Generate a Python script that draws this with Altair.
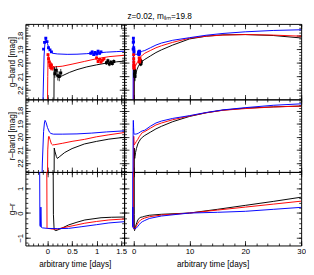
import altair as alt
import pandas as pd

TITLE = "z=0.02, mₗᵢₘ=19.8"
XTITLE = "arbitrary time [days]"
YTITLES = {"g": "g–band [mag]", "r": "r–band [mag]", "gr": "g–r"}
SERIES = ["black", "red", "blue"]
COLORS = ["#000000", "#ff0000", "#0000ff"]

X_LEFT = [-0.45, 1.56]
X_RIGHT = [-1.7, 30.0]
XMAJ_LEFT = [0, 0.5, 1, 1.5]
XMIN_LEFT = [round(-0.4 + 0.1 * i, 2) for i in range(20)]
XMAJ_RIGHT = [0, 10, 20, 30]
XMIN_RIGHT = list(range(0, 31, 2))
Y_MAG = [17.15, 22.68]
YMAJ_MAG = [18, 19, 20, 21, 22]
YMIN_MAG = [round(17.2 + 0.2 * i, 2) for i in range(28)]
Y_COL = [-1.31, 1.66]
YMAJ_COL = [-1, 0, 1]
YMIN_COL = [round(-1.2 + 0.2 * i, 2) for i in range(15)]

# ---- g-band model curves ----
g_black_t = [0.13, 0.135, 0.14, 0.17, 0.22, 0.3, 0.45, 0.6, 0.8, 1.0, 1.2, 1.4, 1.56, 2, 3, 4, 5, 7, 10, 13, 16, 20, 25, 30]
g_black_m = [23.5, 20.3, 20.45, 20.9, 21.05, 20.95, 20.7, 20.5, 20.3, 20.15, 20.02, 19.93, 19.88, 19.75, 19.5, 19.25, 19.05, 18.7, 18.25, 18.05, 17.95, 17.93, 18.0, 18.18]
g_red_t = [-0.002, 0.005, 0.012, 0.03, 0.06, 0.1, 0.15, 0.3, 0.5, 0.75, 1.0, 1.25, 1.56, 2, 3, 4, 5, 7, 10, 13, 16, 20, 25, 30]
g_red_m = [23.5, 21.0, 19.35, 19.6, 20.0, 20.25, 20.3, 20.25, 20.1, 19.9, 19.7, 19.55, 19.45, 19.3, 19.1, 18.9, 18.75, 18.5, 18.2, 18.05, 17.97, 17.93, 17.97, 18.05]
g_blue_t = [-0.1, -0.09, -0.07, -0.05, -0.035, 0.0, 0.03, 0.06, 0.1, 0.2, 0.4, 0.6, 0.8, 1.0, 1.2, 1.4, 1.56, 2, 3, 4, 5, 7, 10, 13, 16, 20, 25, 30]
g_blue_m = [23.5, 22.5, 19.5, 18.4, 18.25, 18.6, 18.95, 19.15, 19.3, 19.35, 19.38, 19.37, 19.33, 19.28, 19.22, 19.18, 19.15, 19.1, 18.9, 18.7, 18.55, 18.35, 18.16, 17.98, 17.85, 17.73, 17.63, 17.58]

# ---- r-band model curves ----
r_black_t = [0.134, 0.137, 0.15, 0.18, 0.2, 0.25, 0.35, 0.5, 0.75, 1.0, 1.25, 1.56, 2, 3, 4, 5, 7, 10, 13, 16, 20, 25, 30]
r_black_m = [23.5, 20.86, 21.1, 21.5, 21.65, 21.5, 21.2, 20.9, 20.55, 20.35, 20.18, 20.04, 19.9, 19.65, 19.4, 19.2, 18.85, 18.45, 18.17, 17.97, 17.82, 17.72, 17.66]
r_red_t = [-0.002, 0.005, 0.02, 0.03, 0.05, 0.08, 0.1, 0.15, 0.3, 0.5, 0.75, 1.0, 1.25, 1.56, 2, 3, 4, 5, 7, 10, 13, 16, 20, 25, 30]
r_red_m = [23.5, 21.0, 20.0, 19.96, 20.2, 20.55, 20.62, 20.6, 20.5, 20.35, 20.2, 20.0, 19.85, 19.68, 19.6, 19.35, 19.1, 18.95, 18.7, 18.42, 18.17, 17.98, 17.85, 17.73, 17.66]
r_blue_t = [-0.115, -0.105, -0.08, -0.06, -0.05, -0.03, 0.0, 0.04, 0.07, 0.12, 0.3, 0.6, 0.9, 1.2, 1.56, 2, 3, 4, 5, 7, 10, 13, 16, 20, 25, 30]
r_blue_m = [23.5, 22.0, 19.6, 18.85, 18.75, 18.9, 19.3, 19.65, 19.75, 19.8, 19.8, 19.78, 19.72, 19.63, 19.55, 19.5, 19.2, 18.95, 18.8, 18.6, 18.39, 18.15, 17.95, 17.78, 17.6, 17.49]

# ---- g-r colour curves ----
c_black_t = [0.115, 0.12, 0.135, 0.17, 0.25, 0.43, 0.6, 0.76, 1.09, 1.3, 1.56, 2, 2.8, 5, 10, 15, 20, 25, 30]
c_black_v = [2.0, -0.05, -0.67, -0.71, -0.65, -0.48, -0.37, -0.28, -0.19, -0.17, -0.16, -0.13, -0.09, -0.05, 0.0, 0.15, 0.31, 0.47, 0.64]
c_red_t = [-0.015, -0.01, 0.0, 0.05, 0.1, 0.2, 0.3, 0.5, 0.76, 1.0, 1.25, 1.56, 2, 2.8, 5, 10, 15, 20, 25, 30]
c_red_v = [2.0, -0.6, -0.62, -0.63, -0.65, -0.65, -0.6, -0.52, -0.41, -0.34, -0.28, -0.24, -0.2, -0.15, -0.08, 0.0, 0.12, 0.24, 0.36, 0.48]
c_blue_t = [-0.16, -0.155, -0.145, -0.135, -0.125, -0.1, 0.0, 0.2, 0.43, 0.7, 1.0, 1.25, 1.56, 2, 2.8, 5, 10, 15, 20, 25, 30]
c_blue_v = [2.0, -0.5, -0.55, 0.24, -0.58, -0.6, -0.62, -0.63, -0.62, -0.55, -0.47, -0.4, -0.35, -0.3, -0.22, -0.12, 0.0, 0.03, 0.07, 0.15, 0.23]

# ---- g-band observed points ----
obs_blue_t = [-0.08, -0.06, -0.035, -0.01, 0.02, 0.05, 0.08, 0.88, 0.91, 0.94, 0.97, 1.0, 1.03, 1.06, 1.09]
obs_blue_m = [19.0, 18.5, 18.2, 18.45, 18.9, 19.05, 19.2, 19.3, 19.2, 19.4, 19.25, 19.35, 19.15, 19.3, 19.2]
obs_blue_e = [0.06, 0.05, 0.05, 0.05, 0.06, 0.06, 0.07, 0.1, 0.1, 0.1, 0.1, 0.1, 0.1, 0.1, 0.1]
obs_red_t = [0.01, 0.02, 0.035, 0.05, 0.065, 0.08, 0.095, 1.0, 1.03, 1.06, 1.09, 1.12, 1.15]
obs_red_m = [19.4, 19.7, 19.95, 20.2, 20.35, 20.15, 20.4, 19.65, 19.9, 19.75, 19.95, 19.8, 19.7]
obs_red_e = [0.1, 0.12, 0.15, 0.18, 0.2, 0.18, 0.2, 0.12, 0.12, 0.12, 0.12, 0.12, 0.12]
obs_black_t = [0.15, 0.18, 0.21, 0.24, 0.27, 1.2, 1.23, 1.26, 1.29, 1.32, 1.35]
obs_black_m = [20.8, 20.55, 20.95, 21.0, 20.75, 20.0, 19.85, 20.1, 19.95, 20.05, 19.9]
obs_black_e = [0.3, 0.3, 0.35, 0.35, 0.3, 0.15, 0.15, 0.15, 0.15, 0.15, 0.15]

CURVES = {
    "g": {"black": (g_black_t, g_black_m), "red": (g_red_t, g_red_m), "blue": (g_blue_t, g_blue_m)},
    "r": {"black": (r_black_t, r_black_m), "red": (r_red_t, r_red_m), "blue": (r_blue_t, r_blue_m)},
    "gr": {"black": (c_black_t, c_black_v), "red": (c_red_t, c_red_v), "blue": (c_blue_t, c_blue_v)},
}
OBS = {"black": (obs_black_t, obs_black_m, obs_black_e),
       "red": (obs_red_t, obs_red_m, obs_red_e),
       "blue": (obs_blue_t, obs_blue_m, obs_blue_e)}

FONT = "Liberation Sans"
FS = 8.5
LFS = 8
HEIGHTS = {"g": 78, "r": 75, "gr": 76}
WIDTHS = [102, 183]


def curve_df(band):
    rows = []
    for s in SERIES:
        ts, vs = CURVES[band][s]
        for t, v in zip(ts, vs):
            rows.append({"t": t, "v": v, "s": s})
    return pd.DataFrame(rows)


def obs_df():
    rows = []
    for s in SERIES:
        ts, ms, es = OBS[s]
        for t, m, e in zip(ts, ms, es):
            rows.append({"t": t, "v": m, "lo": m - e, "hi": m + e, "s": s})
    return pd.DataFrame(rows)


def make_axis(orient, values, size, labels=False, title=None, domain=False, angle=None, tpad=0):
    kw = dict(orient=orient, values=values, tickSize={"expr": str(-size)}, labels=labels,
              domain=domain, grid=False, ticks=True, tickColor="black", tickWidth=0.8,
              domainColor="black", domainWidth=1, title=title)
    if labels:
        pad = size + (1 if orient == "left" else 2)
        kw.update(labelFont=FONT, labelFontSize=LFS, labelColor="black", labelPadding=pad,
                  format="~r", labelFlush=False, labelOverlap=False)
        if angle is not None:
            kw.update(labelAngle=angle)
    if title:
        kw.update(titleFont=FONT, titleFontSize=FS, titleFontWeight="normal", titleColor="black",
                  titlePadding=tpad)
    return alt.Axis(**kw)


def panel(band, col, bottom):
    xdom = X_LEFT if col == 0 else X_RIGHT
    xmaj = XMAJ_LEFT if col == 0 else XMAJ_RIGHT
    xmin = XMIN_LEFT if col == 0 else XMIN_RIGHT
    if band == "gr":
        ydom, ymaj, ymin, rev = Y_COL, YMAJ_COL, YMIN_COL, False
    else:
        ydom, ymaj, ymin, rev = Y_MAG, YMAJ_MAG, YMIN_MAG, True
    xs = alt.Scale(domain=xdom, zero=False, nice=False)
    ys = alt.Scale(domain=ydom, zero=False, nice=False, reverse=rev)
    cs = alt.Scale(domain=SERIES, range=COLORS)
    cdf = curve_df(band)
    base = alt.Chart(cdf)

    axis_specs = [
        (make_axis("bottom", xmaj, 5, labels=bottom, title=XTITLE if bottom else None,
                   domain=True, tpad=5),
         make_axis("left", ymaj, 5, labels=(col == 0), title=YTITLES[band] if col == 0 else None,
                   domain=True, angle=270, tpad=0)),
        (make_axis("bottom", xmin, 2.5), make_axis("left", ymin, 2.5)),
        (make_axis("top", xmaj, 5, domain=True), make_axis("right", ymaj, 5, domain=True)),
        (make_axis("top", xmin, 2.5), make_axis("right", ymin, 2.5)),
    ]
    layers = []
    for ax, ay in axis_specs:
        layers.append(base.mark_line(strokeOpacity=0, clip=True).encode(
            x=alt.X("t:Q", scale=xs, axis=ax),
            y=alt.Y("v:Q", scale=ys, axis=ay),
            detail="s:N"))
    layers.append(base.mark_line(clip=True, strokeWidth=1).encode(
        x=alt.X("t:Q", scale=xs, axis=None),
        y=alt.Y("v:Q", scale=ys, axis=None),
        color=alt.Color("s:N", scale=cs, legend=None)))
    if band == "g":
        odf = alt.Chart(obs_df())
        layers.append(odf.mark_rule(clip=True, strokeWidth=0.8).encode(
            x=alt.X("t:Q", scale=xs, axis=None),
            y=alt.Y("lo:Q", scale=ys, axis=None), y2="hi:Q",
            color=alt.Color("s:N", scale=cs, legend=None)))
        layers.append(odf.mark_square(clip=True, size=9, opacity=1).encode(
            x=alt.X("t:Q", scale=xs, axis=None),
            y=alt.Y("v:Q", scale=ys, axis=None),
            color=alt.Color("s:N", scale=cs, legend=None)))
    return alt.layer(*layers).resolve_axis(x="independent", y="independent").properties(
        width=WIDTHS[col], height=HEIGHTS[band])


panels = []
for band in ["g", "r", "gr"]:
    panels.append(panel(band, 0, band == "gr"))
    panels.append(panel(band, 1, band == "gr"))

chart = alt.concat(*panels, columns=2, spacing=0, bounds="flush").properties(
    title=alt.Title(TITLE, font=FONT, fontSize=FS, fontWeight="normal", color="black",
                    anchor="middle", offset=3, dx=3),
    padding={"left": 0, "top": 0, "right": 0, "bottom": 0},
).configure_view(strokeWidth=0)

chart.save("out.html", embed_options={"renderer": "svg", "actions": False})
